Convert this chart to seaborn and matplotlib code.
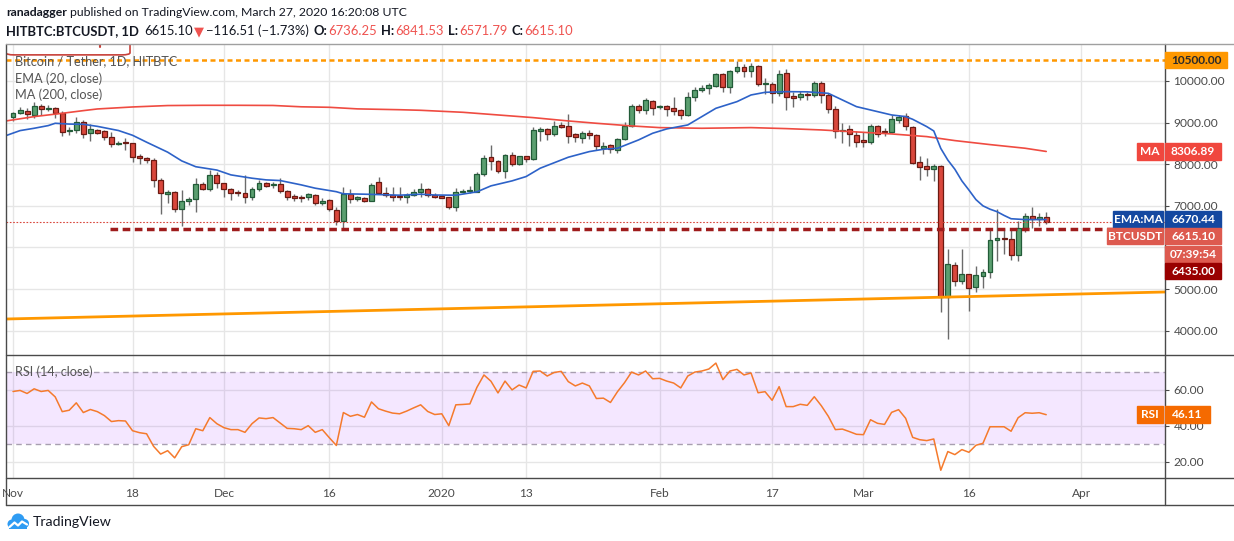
import numpy as np
import pandas as pd
import matplotlib
matplotlib.use('Agg')
import matplotlib.pyplot as plt
import seaborn as sns
from matplotlib.lines import Line2D
from matplotlib.patches import Rectangle, FancyBboxPatch, Circle
from matplotlib.ticker import FuncFormatter

# --- 1. Values (HITBTC:BTCUSDT, 1D, Nov 1 2019 - Mar 27 2020) ---
start_date = '2019-11-01'

opens = [9144, 9240, 9288, 9192, 9392, 9320, 9344, 9224, 8792, 8824,
         9024, 8744, 8816, 8792, 8648, 8480, 8512, 8504, 8200, 8150,
         8104, 7616, 7290, 7328, 6920, 7112, 7160, 7520, 7416, 7736,
         7544, 7400, 7304, 7304, 7208, 7400, 7544, 7496, 7520, 7352,
         7240, 7216, 7208, 7256, 7064, 7144, 6904, 6632, 7280, 7160,
         7184, 7128, 7568, 7320, 7272, 7216, 7208, 7256, 7328, 7400,
         7264, 7224, 7208, 6968, 7336, 7352, 7344, 7760, 8168, 8072,
         7832, 8216, 8016, 8192, 8120, 8808, 8840, 8720, 8920, 8912,
         8720, 8640, 8752, 8696, 8400, 8456, 8336, 8616, 8912, 9400,
         9312, 9512, 9376, 9392, 9344, 9304, 9192, 9616, 9776, 9824,
         9888, 10168, 9848, 10232, 10328, 10232, 10360, 9920, 9920, 9704,
         10184, 9608, 9608, 9680, 9656, 9944, 9656, 9320, 8792, 8840,
         8696, 8560, 8528, 8920, 8784, 8768, 9056, 9152, 8888, 8048,
         7952, 7896, 7952, 4808, 5576, 5184, 5360, 5048, 5304, 5408,
         6176, 6200, 6200, 5816, 6464, 6752, 6680, 6736.25]

closes = [9224, 9296, 9200, 9400, 9328, 9344, 9224, 8784, 8824, 9024,
          8736, 8840, 8760, 8648, 8480, 8512, 8504, 8184, 8144, 8110,
          7616, 7300, 7336, 6920, 7112, 7168, 7520, 7416, 7736, 7544,
          7400, 7304, 7300, 7208, 7400, 7544, 7488, 7520, 7352, 7224,
          7200, 7184, 7280, 7064, 7112, 6920, 6632, 7280, 7160, 7216,
          7128, 7496, 7320, 7256, 7208, 7210, 7264, 7336, 7400, 7264,
          7208, 7200, 6968, 7344, 7360, 7368, 7760, 8144, 8072, 7832,
          8216, 8016, 8192, 8120, 8816, 8840, 8736, 8912, 8904, 8688,
          8664, 8744, 8696, 8432, 8432, 8360, 8608, 8912, 9400, 9312,
          9536, 9344, 9392, 9336, 9288, 9192, 9616, 9776, 9824, 9904,
          10168, 9848, 10232, 10328, 10232, 10360, 9920, 9930, 9704, 10160,
          9608, 9600, 9680, 9656, 9944, 9656, 9320, 8792, 8824, 8720,
          8528, 8544, 8920, 8736, 8770, 9080, 9128, 8912, 8040, 7944,
          7896, 7952, 4808, 5600, 5184, 5360, 5024, 5336, 5416, 6176,
          6232, 6192, 5816, 6464, 6752, 6680, 6728, 6615.10]

highs = [9264, 9368, 9344, 9504, 9448, 9432, 9368, 9272, 8888, 9128,
         9064, 8960, 8848, 8824, 8784, 8568, 8640, 8520, 8240, 8184,
         8144, 7664, 7384, 7360, 7384, 7224, 7664, 7584, 7864, 7824,
         7560, 7440, 7384, 7744, 7464, 7624, 7576, 7584, 7664, 7384,
         7280, 7256, 7320, 7280, 7184, 7168, 6968, 7464, 7400, 7240,
         7208, 7544, 7688, 7464, 7448, 7448, 7304, 7400, 7544, 7424,
         7304, 7264, 7224, 7424, 7400, 7488, 7816, 8224, 8456, 8104,
         8248, 8296, 8208, 8208, 8904, 8904, 8864, 9040, 9024, 9208,
         8752, 8800, 8824, 8720, 8528, 8480, 8624, 9024, 9448, 9448,
         9584, 9536, 9432, 9432, 9608, 9328, 9744, 9864, 9896, 9960,
         10184, 10184, 10264, 10480, 10408, 10424, 10384, 10064, 9984, 10264,
         10280, 9728, 9760, 9736, 10000, 10000, 9704, 9400, 9000, 8936,
         8800, 8776, 8976, 8944, 8864, 9184, 9184, 9224, 8920, 8200,
         8144, 8008, 7984, 5968, 5656, 5968, 5360, 5552, 5480, 6424,
         6928, 6472, 6424, 6624, 6832, 6976, 6824, 6841.53]

lows = [9048, 9208, 9080, 9104, 9184, 9288, 9104, 8688, 8712, 8744,
        8624, 8568, 8728, 8584, 8408, 8456, 8344, 8064, 8008, 8024,
        7448, 6800, 7080, 6864, 6504, 7024, 6864, 7384, 7360, 7440,
        7224, 7144, 7240, 7080, 7144, 7360, 7464, 7424, 7304, 7144,
        7128, 7104, 7144, 7024, 7024, 6888, 6544, 6440, 7080, 7128,
        7104, 7112, 7288, 7224, 7128, 7144, 7080, 7240, 7224, 7208,
        7184, 7184, 6936, 6888, 7304, 7304, 7328, 7728, 7864, 7784,
        7680, 7960, 7984, 8048, 8104, 8568, 8584, 8680, 8864, 8504,
        8528, 8504, 8608, 8344, 8248, 8280, 8280, 8584, 8904, 9240,
        9208, 9184, 9328, 9168, 9184, 9096, 9160, 9528, 9744, 9680,
        9864, 9736, 9720, 10200, 10088, 10104, 9880, 9680, 9464, 9640,
        9304, 9384, 9544, 9544, 9624, 9464, 9240, 8640, 8520, 8448,
        8424, 8424, 8488, 8656, 8680, 8744, 8984, 8824, 8000, 7624,
        7720, 7608, 4440, 3808, 5064, 5120, 4464, 4920, 5016, 5256,
        5664, 5848, 5704, 5664, 6360, 6456, 6520, 6571.79]

# EMA (20) and MA (200), sampled from the drawn lines (day index from Nov 1)
ema_days = [-1, 1, 3, 5, 6, 8, 10, 12, 15, 17, 19, 22, 24, 26, 29, 31, 34, 36, 38, 41,
            43, 46, 47, 50, 55, 58, 60, 63, 66, 68, 71, 73, 75, 79, 82, 84, 86, 89, 91, 93,
            96, 98, 100, 103, 105, 107, 110, 113, 116, 118, 120, 123, 125, 127, 128, 130,
            131, 132, 133, 134, 135, 136, 137, 138, 139, 140, 141, 142, 144, 147]
ema_vals = [8688, 8808, 8864, 8928, 8984, 8965, 8960, 8910, 8810, 8696, 8530, 8290, 8080,
            7940, 7860, 7744, 7664, 7624, 7608, 7504, 7424, 7340, 7290, 7280, 7256, 7280,
            7260, 7256, 7336, 7480, 7600, 7704, 7904, 8168, 8304, 8360, 8384, 8584, 8744,
            8848, 8944, 9144, 9344, 9504, 9664, 9728, 9744, 9740, 9704, 9544, 9384, 9264,
            9184, 9144, 9080, 8904, 8800, 8380, 8100, 7880, 7600, 7380, 7150, 7000, 6920,
            6860, 6770, 6690, 6670, 6670.44]

ma_days = [-1, 3, 7, 10, 12, 17, 22, 27, 32, 37, 41, 45, 49, 55, 58, 64, 69, 74, 79, 83,
           88, 92, 98, 105, 110, 115, 120, 125, 130, 134, 139, 144, 147]
ma_vals = [9040, 9144, 9224, 9288, 9328, 9376, 9410, 9416, 9416, 9412, 9380, 9368, 9330,
           9310, 9296, 9248, 9184, 9120, 9040, 8984, 8920, 8880, 8864, 8880, 8856, 8824,
           8776, 8728, 8664, 8568, 8472, 8384, 8306.89]

rsi_vals = [59.0, 59.6, 57.9, 60.5, 59.0, 59.6, 56.0, 47.8, 48.6, 52.7,
            47.3, 49.0, 47.8, 45.6, 42.3, 42.8, 42.6, 37.2, 36.1, 35.5,
            28.5, 24.2, 26.1, 22.1, 28.3, 29.4, 38.3, 37.2, 44.5, 41.1,
            38.9, 37.8, 37.8, 36.3, 41.1, 44.3, 43.9, 44.5, 41.5, 38.5,
            38.3, 37.8, 40.0, 36.3, 37.8, 33.3, 29.0, 47.3, 45.2, 46.2,
            44.7, 53.2, 49.4, 48.1, 47.0, 46.6, 48.1, 49.9, 51.6, 47.9,
            46.2, 46.6, 40.0, 51.6, 51.8, 52.1, 61.3, 68.2, 64.7, 58.2,
            64.8, 59.9, 62.6, 61.0, 70.2, 70.4, 67.6, 69.6, 70.2, 64.5,
            62.1, 63.7, 62.1, 55.1, 55.3, 52.9, 58.9, 63.9, 69.8, 68.2,
            70.4, 66.1, 66.3, 64.8, 63.7, 61.0, 67.6, 69.8, 70.4, 71.5,
            74.8, 65.6, 70.4, 71.3, 68.2, 69.3, 58.3, 58.9, 54.1, 61.7,
            50.6, 50.6, 51.9, 51.3, 56.1, 51.1, 45.2, 37.8, 38.1, 36.7,
            35.2, 35.0, 43.3, 41.3, 40.7, 47.4, 48.9, 44.1, 33.5, 32.2,
            31.7, 32.6, 15.2, 25.6, 23.9, 26.7, 25.2, 29.1, 30.2, 39.4,
            39.4, 39.4, 36.9, 44.4, 47.2, 46.9, 47.2, 46.11]

# drawings on the chart
resist_level = 10500.0
support_level = 6435.0
support_from = 13.8
trend_days = [-1.0, 163.9]
trend_vals = [4281, 4930]

tick_dates = ['2019-11-01', '2019-11-18', '2019-12-01', '2019-12-16', '2020-01-01',
              '2020-01-13', '2020-02-01', '2020-02-17', '2020-03-01', '2020-03-16', '2020-04-01']
tick_labels = ['Nov', '18', 'Dec', '16', '2020', '13', 'Feb', '17', 'Mar', '16', 'Apr']
price_ticks = [4000, 5000, 6000, 7000, 8000, 9000, 10000]
hidden_price_labels = [6000]   # covered by the value boxes on the chart
rsi_ticks = [20, 40, 60]

# --- 2. Frame ---
df = pd.DataFrame({'open': opens, 'high': highs, 'low': lows, 'close': closes})
df['day'] = np.arange(len(df))
tick_days = (pd.to_datetime(tick_dates) - pd.Timestamp(start_date)).days.values
rsi_df = pd.DataFrame({'day': np.arange(len(rsi_vals)), 'rsi': rsi_vals})

sns.set_theme(style='white')
plt.rcParams['font.family'] = ['Lato', 'DejaVu Sans']

W, H = 1234, 541
fig = plt.figure(figsize=(W / 100, H / 100), dpi=100)
rend = fig.canvas.get_renderer()

def fx(x):
    return x / W

def fy(y):
    return 1 - y / H

GRID = '#e6e6e6'
BORDER = '#4a4a4a'
TXT = '#4a4a4a'
UP_FILL, UP_EDGE = '#5b9f70', '#225b38'
DN_FILL, DN_EDGE = '#d9473c', '#6b1a12'

ax = fig.add_axes([fx(6), fy(355), fx(1165) - fx(6), fy(44) - fy(355)])
axr = fig.add_axes([fx(6), fy(478), fx(1165) - fx(6), fy(355) - fy(478)], sharex=ax)

# --- 3. Price panel ---
up = df['close'] >= df['open']
body_lo = df[['open', 'close']].min(axis=1)
body_h = (df['close'] - df['open']).abs().clip(lower=30)

ax.vlines(df['day'], df['low'], df['high'], color='#6b6b6b', lw=1, zorder=2)
ax.bar(df['day'][up], body_h[up], bottom=body_lo[up], width=0.7,
       color=UP_FILL, edgecolor=UP_EDGE, linewidth=0.9, zorder=3)
ax.bar(df['day'][~up], body_h[~up], bottom=body_lo[~up], width=0.7,
       color=DN_FILL, edgecolor=DN_EDGE, linewidth=0.9, zorder=3)

sns.lineplot(x=ma_days, y=ma_vals, ax=ax, color='#ef4b41', lw=1.2, zorder=4)
sns.lineplot(x=ema_days, y=ema_vals, ax=ax, color='#2d62c8', lw=1.2, zorder=4)
sns.lineplot(x=trend_days, y=trend_vals, ax=ax, color='#ff9800', lw=2, zorder=4)

ax.axhline(resist_level, color='#ff9800', lw=1.8, ls=(0, (2, 1.4)), zorder=5)
ax.axhline(closes[-1], color='#d9473c', lw=0.8, ls=(0, (1.5, 1.5)), zorder=5)
ax.hlines(support_level, support_from, 170, color='#9e1c1c', lw=2.5, ls=(0, (2.2, 1.3)), zorder=5)

ax.set_xlim(-1.0, 163.9)
ax.set_ylim(3416, 10889)
ax.set_xticks(tick_days)
ax.set_yticks(price_ticks)
ax.grid(True, color=GRID, lw=1)
ax.set_axisbelow(True)
ax.yaxis.tick_right()
ax.yaxis.set_major_formatter(
    FuncFormatter(lambda v, p: '' if v in hidden_price_labels else f'{v:.2f}'))
ax.tick_params(axis='y', length=3, width=0.8, color=BORDER, labelcolor=TXT,
               labelsize=8.6, pad=3)
ax.tick_params(axis='x', length=0, labelbottom=False)
ax.set_xlabel('')
ax.set_ylabel('')
for s in ax.spines.values():
    s.set_visible(False)

# callout frame peeking into the top-left corner
ax.add_patch(FancyBboxPatch((0.0, 0.965), 0.107, 0.08, transform=ax.transAxes,
                            boxstyle='round,pad=0,rounding_size=0.007', fill=False,
                            edgecolor='#c8413a', lw=1.2, clip_on=True, zorder=6))
ax.plot([0.081, 0.081], [0.99, 1.0], transform=ax.transAxes, color='#c8413a', lw=1.5, zorder=6)

legend_lines = [('Bitcoin / Tether, 1D, HITBTC', 61), ('EMA (20, close)', 79), ('MA (200, close)', 95)]
for txt, ypx in legend_lines:
    fig.text(fx(15), fy(ypx), txt, color='#555555', fontsize=9.2, ha='left', va='center', zorder=7)

# --- 4. RSI panel ---
axr.axhspan(30, 70, color=(0.58, 0.1, 1.0), alpha=0.1, lw=0, zorder=1)
axr.axhline(70, color='#a89fb0', lw=1, ls=(0, (4, 3)), zorder=2)
axr.axhline(30, color='#a89fb0', lw=1, ls=(0, (4, 3)), zorder=2)
sns.lineplot(data=rsi_df, x='day', y='rsi', ax=axr, color='#f57a2c', lw=1.1, zorder=4)
axr.set_ylim(10.9, 79.3)
axr.set_yticks(rsi_ticks)
axr.set_xticks(tick_days)
axr.set_xticklabels(tick_labels)
axr.grid(True, color=GRID, lw=1)
axr.set_axisbelow(True)
axr.yaxis.tick_right()
axr.yaxis.set_major_formatter(FuncFormatter(lambda v, p: f'{v:.2f}'))
axr.tick_params(axis='y', length=3, width=0.8, color=BORDER, labelcolor=TXT,
                labelsize=8.6, pad=3)
axr.tick_params(axis='x', length=3, width=0.8, color=BORDER, labelcolor=TXT,
                labelsize=8.6, pad=4)
axr.set_xlabel('')
axr.set_ylabel('')
for s in axr.spines.values():
    s.set_visible(False)
ax.set_xlim(-1.0, 163.9)
fig.text(fx(15), fy(372), 'RSI (14, close)', color='#555555', fontsize=9.2,
         ha='left', va='center', zorder=7)

# --- 5. Borders ---
def line(xs, ys, color=BORDER):
    fig.add_artist(Line2D([fx(v) for v in xs], [fy(v) for v in ys], color=color,
                          lw=1, transform=fig.transFigure, zorder=8))

line([6, 6], [44, 505])
line([1165, 1165], [44, 505])
line([6, 1234], [44, 44], color='#a0a0a0')
for yv in (355, 478, 505):
    line([6, 1234], [yv, yv])

# --- 6. Right axis value boxes ---
def ypix(axis, v):
    return H - axis.transData.transform((0, v))[1]

def box(x0, x1, yc, color, text, tcolor='white', h=16.5):
    fig.add_artist(Rectangle((fx(x0), fy(yc + h / 2)), fx(x1) - fx(x0), h / H,
                             transform=fig.transFigure, color=color, zorder=10))
    fig.text(fx((x0 + x1) / 2), fy(yc), text, ha='center', va='center', color=tcolor,
             fontsize=8.6, fontweight='bold', zorder=11)

box(1165, 1227, ypix(ax, resist_level), '#ff9800', f'{resist_level:.2f}', tcolor='#2a2a2a')
y_ma = ypix(ax, ma_vals[-1])
box(1137, 1163, y_ma, '#f0473e', 'MA')
box(1165, 1221, y_ma, '#f0473e', f'{ma_vals[-1]:.2f}')
y_ema = ypix(ax, ema_vals[-1])
box(1113, 1163, y_ema, '#1448a0', 'EMA:MA')
box(1165, 1221, y_ema, '#1448a0', f'{ema_vals[-1]:.2f}')
y_px = max(ypix(ax, closes[-1]), y_ema + 16.5)
box(1107, 1163, y_px, '#dd5a4f', 'BTCUSDT')
box(1165, 1221, y_px, '#dd5a4f', f'{closes[-1]:.2f}')
box(1165, 1221, y_px + 18, '#dd5a4f', '07:39:54')
y_sup = max(ypix(ax, support_level), y_px + 35)
box(1165, 1221, y_sup, '#990000', f'{support_level:.2f}')
y_rsi = ypix(axr, rsi_vals[-1])
box(1137, 1163, y_rsi, '#f56a00', 'RSI')
box(1165, 1210, y_rsi, '#f56a00', f'{rsi_vals[-1]:.2f}')

# --- 7. Header ---
def put_runs(x, y, parts, size):
    for txt, color, weight, gap in parts:
        t = fig.text(fx(x), fy(y), txt, fontsize=size, color=color, fontweight=weight,
                     ha='left', va='center', family=['Lato', 'DejaVu Sans'])
        x += t.get_window_extent(renderer=rend).width + gap
    return x

DARK = '#131722'
RED = '#ef5350'
put_runs(6, 12, [('ranadagger', DARK, 'bold', 3),
                 ('published on TradingView.com, March 27, 2020 16:20:08 UTC', DARK, 'normal', 0)], 8.8)
put_runs(6, 31, [('HITBTC:BTCUSDT, 1D', DARK, 'bold', 5),
                 ('6615.10', DARK, 'normal', 1),
                 ('\u25bc', RED, 'normal', 3),
                 ('\u2212116.51 (\u22121.73%)', DARK, 'normal', 4),
                 ('O:', DARK, 'bold', 1), ('6736.25', RED, 'normal', 4),
                 ('H:', DARK, 'bold', 1), ('6841.53', RED, 'normal', 4),
                 ('L:', DARK, 'bold', 1), ('6571.79', RED, 'normal', 4),
                 ('C:', DARK, 'bold', 1), ('6615.10', RED, 'normal', 0)], 9.4)

# --- 8. TradingView logo ---
lax = fig.add_axes([fx(6), fy(533), fx(30) - fx(6), 24 / H])
lax.set_xlim(0, 24)
lax.set_ylim(0, 24)
lax.axis('off')
for cx, cy, r in [(6, 9, 4.5), (12, 13, 6.5), (18.5, 9.5, 4.5)]:
    lax.add_patch(Circle((cx, cy), r, color='#2f9cf3', lw=0))
lax.add_patch(Rectangle((3, 4.5), 18, 5, color='#2f9cf3', lw=0))
lax.plot([3.5, 8.5, 12, 16, 21], [6, 10.5, 7.5, 11.5, 8.5], color='white', lw=1.6)
fig.text(fx(33), fy(522), 'TradingView', color=DARK, fontsize=10.2, ha='left', va='center')

fig.savefig('out.png', dpi=100)
